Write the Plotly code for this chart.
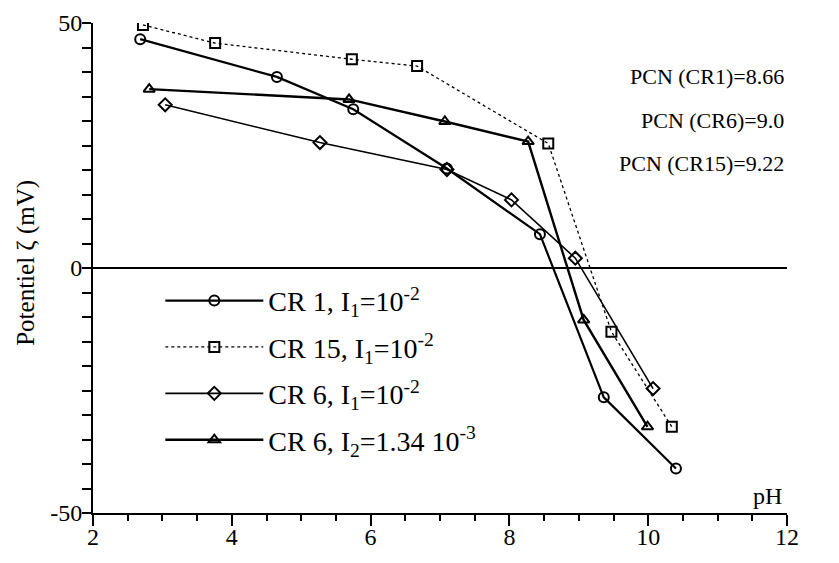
import plotly.graph_objects as go

# Data
cr1_ph = [2.68, 4.65, 5.75, 7.10, 8.44, 9.36, 10.40]
cr1_zeta = [46.7, 39.0, 32.4, 20.3, 6.9, -26.4, -40.9]

cr15_ph = [2.72, 3.76, 5.73, 6.67, 8.56, 9.47, 10.34]
cr15_zeta = [49.6, 45.9, 42.6, 41.2, 25.4, -13.0, -32.4]

cr6a_ph = [3.04, 5.27, 7.10, 8.03, 8.95, 10.07]
cr6a_zeta = [33.3, 25.6, 20.1, 13.9, 2.0, -24.6]

cr6b_ph = [2.81, 5.69, 7.07, 8.27, 9.07, 9.99]
cr6b_zeta = [36.5, 34.4, 29.9, 25.8, -10.6, -32.4]

names = [
    "CR 1, I<sub>1</sub>=10<sup>-2</sup>",
    "CR 15, I<sub>1</sub>=10<sup>-2</sup>",
    "CR 6, I<sub>1</sub>=10<sup>-2</sup>",
    "CR 6, I<sub>2</sub>=1.34 10<sup>-3</sup>",
]
pcn_labels = ["PCN (CR1)=8.66", "PCN (CR6)=9.0", "PCN (CR15)=9.22"]
x_ticks = [2, 4, 6, 8, 10, 12]
y_ticks = [-50, 0, 50]
y_ticktext = ["-50", "0", "50"]

FONT = "Liberation Serif"

fig = go.Figure()
series = [
    (cr1_ph, cr1_zeta, names[0], "circle-open", "solid", 2.2),
    (cr15_ph, cr15_zeta, names[1], "square-open", "dot", 1.3),
    (cr6a_ph, cr6a_zeta, names[2], "diamond-open", "solid", 1.6),
    (cr6b_ph, cr6b_zeta, names[3], "triangle-up-open", "solid", 2.4),
]
for i, (x, y, n, sym, dash, w) in enumerate(series):
    fig.add_trace(go.Scatter(
        x=x, y=y, name=n, mode="lines+markers",
        line=dict(color="black", width=w, dash=dash),
        marker=dict(symbol=sym, size=10, color="black", line=dict(width=2, color="black")),
        legendgroup=f"g{i}",
    ))

fig.update_layout(
    width=831, height=555,
    margin=dict(l=85, r=52, t=15, b=50, autoexpand=False),
    paper_bgcolor="white", plot_bgcolor="white",
    font=dict(family=FONT, size=20, color="black"),
    showlegend=True,
    legend=dict(
        x=0.097, y=0.484, xanchor="left", yanchor="top",
        bgcolor="rgba(255,255,255,0)",
        font=dict(family=FONT, size=28, color="black"),
        itemwidth=98, tracegroupgap=7,
    ),
    xaxis=dict(
        range=[2, 12], tickvals=x_ticks, automargin=False,
        showgrid=False, zeroline=False,
        showline=True, linecolor="black", linewidth=2,
        ticks="outside", ticklen=11, tickwidth=2, tickcolor="black",
        minor=dict(dtick=0.5, ticks="outside", ticklen=6, tickwidth=2, tickcolor="black"),
        tickfont=dict(family=FONT, size=24),
        ticklabelstandoff=-10,
    ),
    yaxis=dict(
        range=[-50, 50], tickvals=y_ticks, ticktext=y_ticktext, automargin=False,
        showgrid=False, zeroline=True, zerolinecolor="black", zerolinewidth=1.5,
        showline=True, linecolor="black", linewidth=2,
        ticks="outside", ticklen=9, tickwidth=2, tickcolor="black",
        minor=dict(dtick=5, ticks="outside", ticklen=9, tickwidth=2, tickcolor="black"),
        tickfont=dict(family=FONT, size=24),
        ticklabelstandoff=-5,
    ),
)

annots = [
    dict(text="Potentiel ζ (mV)", xref="paper", yref="paper", x=-0.097, y=0.51,
         xanchor="center", yanchor="middle",
         textangle=-90, showarrow=False, font=dict(family=FONT, size=25)),
    dict(text="pH", xref="x", yref="paper", x=11.95, y=0.005, xanchor="right", yanchor="bottom",
         showarrow=False, font=dict(family=FONT, size=24)),
]
for i, t in enumerate(pcn_labels):
    annots.append(dict(text=t, xref="paper", yref="paper", x=0.998, y=0.89 - i * 0.088,
                       xanchor="right", yanchor="middle", showarrow=False,
                       font=dict(family=FONT, size=22)))
fig.update_layout(annotations=annots)

fig.write_html("out.html")
